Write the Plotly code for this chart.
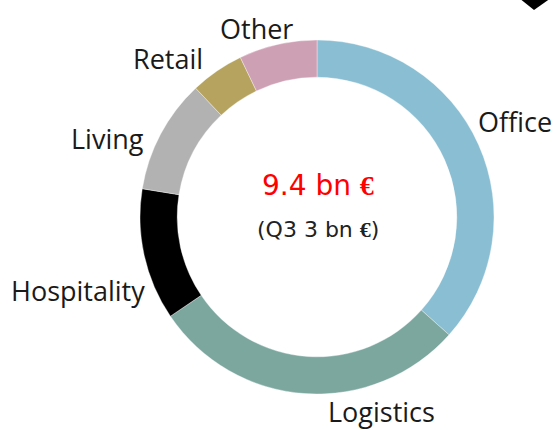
import plotly.graph_objects as go

# Data
categories = ["Office", "Logistics", "Hospitality", "Living", "Retail", "Other"]
values_bn = [3.44, 2.72, 1.13, 0.98, 0.46, 0.67]
colors = ["#89BED3", "#7BA79F", "#000000", "#B2B2B2", "#B5A35F", "#CEA0B4"]
total_label = "9.4 bn"
prev_label = "(Q3 3 bn"

W, H = 557, 430

def px(x):
    return x / W

def py(y):
    return 1 - y / H

fig = go.Figure()
fig.add_trace(go.Pie(
    labels=categories,
    values=values_bn,
    sort=False,
    direction="clockwise",
    rotation=0,
    hole=0.79,
    textinfo="none",
    hoverinfo="label+value",
    marker=dict(colors=colors, line=dict(color="rgba(255,255,255,0.6)", width=0.6)),
    domain=dict(x=[px(140), px(494)], y=[py(394), py(40)]),
    showlegend=False,
))

# Outside category labels
label_pos = {
    "Office": (515, 121),
    "Logistics": (381, 411),
    "Hospitality": (78, 290),
    "Living": (108, 138),
    "Retail": (168, 58),
    "Other": (256, 29),
}
for cat in categories:
    x, y = label_pos[cat]
    fig.add_annotation(
        x=px(x), y=py(y), xref="paper", yref="paper",
        text=cat, showarrow=False, xanchor="center", yanchor="middle",
        font=dict(family="Open Sans, sans-serif", size=27, color="#1a1a1a"),
    )

euro = "<span style=\"font-family:'Liberation Serif';font-weight:bold\">€</span>"
fig.add_annotation(
    x=px(318), y=py(186), xref="paper", yref="paper",
    text=total_label + " " + euro, showarrow=False,
    xanchor="center", yanchor="middle",
    font=dict(family="DejaVu Sans, sans-serif", size=28, color="#FF0000"),
)
fig.add_annotation(
    x=px(318), y=py(230), xref="paper", yref="paper",
    text=prev_label + " " + euro + ")", showarrow=False,
    xanchor="center", yanchor="middle",
    font=dict(family="DejaVu Sans, sans-serif", size=22, color="#222222"),
)

# decorative chevron at top right
fig.add_shape(
    type="path", xref="paper", yref="paper",
    path=f"M {px(519)},{py(-2)} L {px(551)},{py(-2)} L {px(534)},{py(10)} Z",
    fillcolor="black", line=dict(width=0),
)

fig.update_layout(
    width=W, height=H,
    margin=dict(l=0, r=0, t=0, b=0),
    paper_bgcolor="white", plot_bgcolor="white",
)
fig.write_html(
    "out.html",
    config={"displayModeBar": False},
    post_script="document.body.style.margin='0';document.body.style.overflow='hidden';",
)
